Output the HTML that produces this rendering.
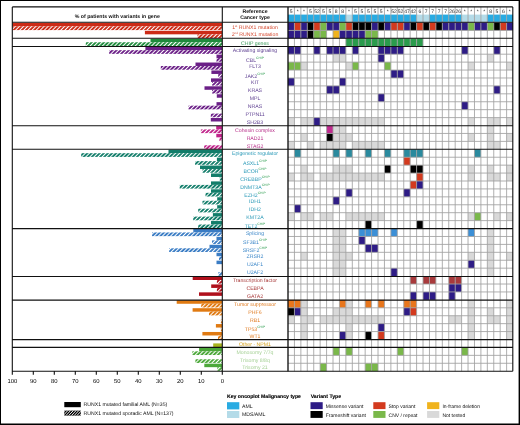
<!DOCTYPE html><html><head><meta charset="utf-8"><style>
html,body{margin:0;padding:0;background:#fff;}
svg{display:block;will-change:transform;}
text{font-family:"Liberation Sans",sans-serif;text-rendering:geometricPrecision;}
</style></head><body>
<svg width="520" height="425" viewBox="0 0 520 425">
<defs>
<pattern id="h_runx" patternUnits="userSpaceOnUse" width="2.9" height="2.9" patternTransform="rotate(45)"><rect width="2.9" height="2.9" fill="#cc2b17"/><rect x="0" y="0" width="1.0" height="2.9" fill="#fff"/></pattern>
<pattern id="h_chip" patternUnits="userSpaceOnUse" width="2.9" height="2.9" patternTransform="rotate(45)"><rect width="2.9" height="2.9" fill="#1f8b3d"/><rect x="0" y="0" width="1.0" height="2.9" fill="#fff"/></pattern>
<pattern id="h_act" patternUnits="userSpaceOnUse" width="2.9" height="2.9" patternTransform="rotate(45)"><rect width="2.9" height="2.9" fill="#6b1f87"/><rect x="0" y="0" width="1.0" height="2.9" fill="#fff"/></pattern>
<pattern id="h_coh" patternUnits="userSpaceOnUse" width="2.9" height="2.9" patternTransform="rotate(45)"><rect width="2.9" height="2.9" fill="#c0238a"/><rect x="0" y="0" width="1.0" height="2.9" fill="#fff"/></pattern>
<pattern id="h_epi" patternUnits="userSpaceOnUse" width="2.9" height="2.9" patternTransform="rotate(45)"><rect width="2.9" height="2.9" fill="#127d6a"/><rect x="0" y="0" width="1.0" height="2.9" fill="#fff"/></pattern>
<pattern id="h_spl" patternUnits="userSpaceOnUse" width="2.9" height="2.9" patternTransform="rotate(45)"><rect width="2.9" height="2.9" fill="#3a7cc4"/><rect x="0" y="0" width="1.0" height="2.9" fill="#fff"/></pattern>
<pattern id="h_tf" patternUnits="userSpaceOnUse" width="2.9" height="2.9" patternTransform="rotate(45)"><rect width="2.9" height="2.9" fill="#b0101c"/><rect x="0" y="0" width="1.0" height="2.9" fill="#fff"/></pattern>
<pattern id="h_ts" patternUnits="userSpaceOnUse" width="2.9" height="2.9" patternTransform="rotate(45)"><rect width="2.9" height="2.9" fill="#e07a12"/><rect x="0" y="0" width="1.0" height="2.9" fill="#fff"/></pattern>
<pattern id="h_oth" patternUnits="userSpaceOnUse" width="2.9" height="2.9" patternTransform="rotate(45)"><rect width="2.9" height="2.9" fill="#a8b41e"/><rect x="0" y="0" width="1.0" height="2.9" fill="#fff"/></pattern>
<pattern id="h_cyt" patternUnits="userSpaceOnUse" width="2.9" height="2.9" patternTransform="rotate(45)"><rect width="2.9" height="2.9" fill="#4ca83a"/><rect x="0" y="0" width="1.0" height="2.9" fill="#fff"/></pattern>
<pattern id="h_blk" patternUnits="userSpaceOnUse" width="1.5" height="1.5" patternTransform="rotate(45)"><rect width="1.5" height="1.5" fill="#000"/><rect x="0" y="0" width="0.55" height="1.5" fill="#fff"/></pattern>
</defs>
<rect x="0" y="0" width="520" height="425" fill="#fff"/>
<rect x="12.30" y="22.90" width="209.70" height="3.5" fill="#cc2b17"/>
<rect x="12.30" y="26.40" width="209.70" height="3.7" fill="url(#h_runx)"/>
<rect x="144.90" y="30.82" width="77.10" height="3.5" fill="#cc2b17"/>
<rect x="197.50" y="34.33" width="24.50" height="3.7" fill="url(#h_runx)"/>
<rect x="150.50" y="38.75" width="71.50" height="3.5" fill="#1f8b3d"/>
<rect x="85.80" y="42.25" width="136.20" height="3.7" fill="url(#h_chip)"/>
<rect x="145.40" y="46.67" width="76.60" height="3.5" fill="#6b1f87"/>
<rect x="109.20" y="50.17" width="112.80" height="3.7" fill="url(#h_act)"/>
<rect x="216.50" y="54.60" width="5.50" height="3.5" fill="#6b1f87"/>
<rect x="216.50" y="58.10" width="5.50" height="3.7" fill="url(#h_act)"/>
<rect x="195.50" y="62.52" width="26.50" height="3.5" fill="#6b1f87"/>
<rect x="160.80" y="66.03" width="61.20" height="3.7" fill="url(#h_act)"/>
<rect x="211.40" y="70.45" width="10.60" height="3.5" fill="#6b1f87"/>
<rect x="218.20" y="73.95" width="3.80" height="3.7" fill="url(#h_act)"/>
<rect x="211.00" y="78.38" width="11.00" height="3.5" fill="#6b1f87"/>
<rect x="212.00" y="81.88" width="10.00" height="3.7" fill="url(#h_act)"/>
<rect x="204.50" y="86.30" width="17.50" height="3.5" fill="#6b1f87"/>
<rect x="212.00" y="89.80" width="10.00" height="3.7" fill="url(#h_act)"/>
<rect x="216.80" y="94.23" width="5.20" height="3.5" fill="#6b1f87"/>
<rect x="216.50" y="102.15" width="5.50" height="3.5" fill="#6b1f87"/>
<rect x="188.50" y="105.65" width="33.50" height="3.7" fill="url(#h_act)"/>
<rect x="210.80" y="113.58" width="11.20" height="3.7" fill="url(#h_act)"/>
<rect x="210.80" y="118.00" width="11.20" height="3.5" fill="#6b1f87"/>
<rect x="216.20" y="125.92" width="5.80" height="3.5" fill="#c0238a"/>
<rect x="200.90" y="129.42" width="21.10" height="3.7" fill="url(#h_coh)"/>
<rect x="216.30" y="133.85" width="5.70" height="3.5" fill="#c0238a"/>
<rect x="219.40" y="137.35" width="2.60" height="3.7" fill="url(#h_coh)"/>
<rect x="204.20" y="145.28" width="17.80" height="3.7" fill="url(#h_coh)"/>
<rect x="168.50" y="149.70" width="53.50" height="3.5" fill="#127d6a"/>
<rect x="81.20" y="153.20" width="140.80" height="3.7" fill="url(#h_epi)"/>
<rect x="216.90" y="157.62" width="5.10" height="3.5" fill="#127d6a"/>
<rect x="195.10" y="161.12" width="26.90" height="3.7" fill="url(#h_epi)"/>
<rect x="200.00" y="165.55" width="22.00" height="3.5" fill="#127d6a"/>
<rect x="202.50" y="169.05" width="19.50" height="3.7" fill="url(#h_epi)"/>
<rect x="211.00" y="173.47" width="11.00" height="3.5" fill="#127d6a"/>
<rect x="219.70" y="176.97" width="2.30" height="3.7" fill="url(#h_epi)"/>
<rect x="211.00" y="181.40" width="11.00" height="3.5" fill="#127d6a"/>
<rect x="179.70" y="184.90" width="42.30" height="3.7" fill="url(#h_epi)"/>
<rect x="211.00" y="189.32" width="11.00" height="3.5" fill="#127d6a"/>
<rect x="205.50" y="192.82" width="16.50" height="3.7" fill="url(#h_epi)"/>
<rect x="217.20" y="197.25" width="4.80" height="3.5" fill="#127d6a"/>
<rect x="202.50" y="200.75" width="19.50" height="3.7" fill="url(#h_epi)"/>
<rect x="217.20" y="205.18" width="4.80" height="3.5" fill="#127d6a"/>
<rect x="198.20" y="208.68" width="23.80" height="3.7" fill="url(#h_epi)"/>
<rect x="212.90" y="213.10" width="9.10" height="3.5" fill="#127d6a"/>
<rect x="193.20" y="216.60" width="28.80" height="3.7" fill="url(#h_epi)"/>
<rect x="211.00" y="221.03" width="11.00" height="3.5" fill="#127d6a"/>
<rect x="198.20" y="224.53" width="23.80" height="3.7" fill="url(#h_epi)"/>
<rect x="193.30" y="228.95" width="28.70" height="3.5" fill="#3a7cc4"/>
<rect x="152.00" y="232.45" width="70.00" height="3.7" fill="url(#h_spl)"/>
<rect x="216.50" y="236.88" width="5.50" height="3.5" fill="#3a7cc4"/>
<rect x="212.00" y="240.38" width="10.00" height="3.7" fill="url(#h_spl)"/>
<rect x="209.50" y="244.80" width="12.50" height="3.5" fill="#3a7cc4"/>
<rect x="169.10" y="248.30" width="52.90" height="3.7" fill="url(#h_spl)"/>
<rect x="216.50" y="252.72" width="5.50" height="3.5" fill="#3a7cc4"/>
<rect x="219.00" y="256.22" width="3.00" height="3.7" fill="url(#h_spl)"/>
<rect x="216.50" y="260.65" width="5.50" height="3.5" fill="#3a7cc4"/>
<rect x="218.40" y="272.07" width="3.60" height="3.7" fill="url(#h_spl)"/>
<rect x="192.70" y="276.50" width="29.30" height="3.5" fill="#b0101c"/>
<rect x="216.90" y="280.00" width="5.10" height="3.7" fill="url(#h_tf)"/>
<rect x="211.20" y="284.42" width="10.80" height="3.5" fill="#b0101c"/>
<rect x="216.90" y="287.92" width="5.10" height="3.7" fill="url(#h_tf)"/>
<rect x="199.00" y="292.35" width="23.00" height="3.5" fill="#b0101c"/>
<rect x="176.70" y="300.27" width="45.30" height="3.5" fill="#e07a12"/>
<rect x="201.20" y="303.77" width="20.80" height="3.7" fill="url(#h_ts)"/>
<rect x="192.60" y="308.20" width="29.40" height="3.5" fill="#e07a12"/>
<rect x="209.00" y="311.70" width="13.00" height="3.7" fill="url(#h_ts)"/>
<rect x="220.80" y="319.62" width="1.20" height="3.7" fill="url(#h_ts)"/>
<rect x="215.90" y="324.05" width="6.10" height="3.5" fill="#e07a12"/>
<rect x="220.80" y="327.55" width="1.20" height="3.7" fill="url(#h_ts)"/>
<rect x="202.40" y="331.97" width="19.60" height="3.5" fill="#e07a12"/>
<rect x="218.00" y="335.47" width="4.00" height="3.7" fill="url(#h_ts)"/>
<rect x="213.20" y="343.40" width="8.80" height="3.7" fill="#a8b41e"/>
<rect x="199.10" y="347.82" width="22.90" height="3.5" fill="#4ca83a"/>
<rect x="192.30" y="351.32" width="29.70" height="3.7" fill="url(#h_cyt)"/>
<rect x="195.40" y="359.25" width="26.60" height="3.7" fill="url(#h_cyt)"/>
<rect x="204.30" y="363.67" width="17.70" height="3.5" fill="#4ca83a"/>
<rect x="217.30" y="367.17" width="4.70" height="3.7" fill="url(#h_cyt)"/>
<rect x="288.00" y="14.6" width="6.43" height="7.2" fill="#29abe2"/>
<rect x="294.43" y="14.6" width="6.43" height="7.2" fill="#29abe2"/>
<rect x="300.86" y="14.6" width="6.43" height="7.2" fill="#29abe2"/>
<rect x="307.29" y="14.6" width="6.43" height="7.2" fill="#29abe2"/>
<rect x="313.72" y="14.6" width="6.43" height="7.2" fill="#29abe2"/>
<rect x="320.15" y="14.6" width="6.43" height="7.2" fill="#29abe2"/>
<rect x="326.58" y="14.6" width="6.43" height="7.2" fill="#29abe2"/>
<rect x="333.01" y="14.6" width="6.43" height="7.2" fill="#29abe2"/>
<rect x="339.44" y="14.6" width="6.43" height="7.2" fill="#29abe2"/>
<rect x="345.87" y="14.6" width="6.43" height="7.2" fill="#b4dbe8"/>
<rect x="352.30" y="14.6" width="6.43" height="7.2" fill="#29abe2"/>
<rect x="358.73" y="14.6" width="6.43" height="7.2" fill="#29abe2"/>
<rect x="365.16" y="14.6" width="6.43" height="7.2" fill="#29abe2"/>
<rect x="371.59" y="14.6" width="6.43" height="7.2" fill="#29abe2"/>
<rect x="378.02" y="14.6" width="6.43" height="7.2" fill="#29abe2"/>
<rect x="384.45" y="14.6" width="6.43" height="7.2" fill="#29abe2"/>
<rect x="390.88" y="14.6" width="6.43" height="7.2" fill="#29abe2"/>
<rect x="397.31" y="14.6" width="6.43" height="7.2" fill="#29abe2"/>
<rect x="403.74" y="14.6" width="6.43" height="7.2" fill="#29abe2"/>
<rect x="410.17" y="14.6" width="6.43" height="7.2" fill="#29abe2"/>
<rect x="416.60" y="14.6" width="6.43" height="7.2" fill="#b4dbe8"/>
<rect x="423.03" y="14.6" width="6.43" height="7.2" fill="#b4dbe8"/>
<rect x="429.46" y="14.6" width="6.43" height="7.2" fill="#29abe2"/>
<rect x="435.89" y="14.6" width="6.43" height="7.2" fill="#29abe2"/>
<rect x="442.32" y="14.6" width="6.43" height="7.2" fill="#29abe2"/>
<rect x="448.75" y="14.6" width="6.43" height="7.2" fill="#29abe2"/>
<rect x="455.18" y="14.6" width="6.43" height="7.2" fill="#29abe2"/>
<rect x="461.61" y="14.6" width="6.43" height="7.2" fill="#b4dbe8"/>
<rect x="468.04" y="14.6" width="6.43" height="7.2" fill="#b4dbe8"/>
<rect x="474.47" y="14.6" width="6.43" height="7.2" fill="#b4dbe8"/>
<rect x="480.90" y="14.6" width="6.43" height="7.2" fill="#b4dbe8"/>
<rect x="487.33" y="14.6" width="6.43" height="7.2" fill="#29abe2"/>
<rect x="493.76" y="14.6" width="6.43" height="7.2" fill="#29abe2"/>
<rect x="500.19" y="14.6" width="6.43" height="7.2" fill="#29abe2"/>
<rect x="506.62" y="14.6" width="6.43" height="7.2" fill="#29abe2"/>
<rect x="288.00" y="22.50" width="6.43" height="7.92" fill="#2e1c86"/>
<rect x="294.43" y="22.50" width="6.43" height="7.92" fill="#d33a1e"/>
<rect x="300.86" y="22.50" width="6.43" height="7.92" fill="#2e1c86"/>
<rect x="307.29" y="22.50" width="6.43" height="7.92" fill="#000000"/>
<rect x="313.72" y="22.50" width="6.43" height="7.92" fill="#d33a1e"/>
<rect x="320.15" y="22.50" width="6.43" height="7.92" fill="#7ab84a"/>
<rect x="326.58" y="22.50" width="6.43" height="7.92" fill="#2e1c86"/>
<rect x="333.01" y="22.50" width="6.43" height="7.92" fill="#2e1c86"/>
<rect x="339.44" y="22.50" width="6.43" height="7.92" fill="#7ab84a"/>
<rect x="345.87" y="22.50" width="6.43" height="7.92" fill="#d33a1e"/>
<rect x="352.30" y="22.50" width="6.43" height="7.92" fill="#000000"/>
<rect x="358.73" y="22.50" width="6.43" height="7.92" fill="#000000"/>
<rect x="365.16" y="22.50" width="6.43" height="7.92" fill="#000000"/>
<rect x="371.59" y="22.50" width="6.43" height="7.92" fill="#2e1c86"/>
<rect x="378.02" y="22.50" width="6.43" height="7.92" fill="#000000"/>
<rect x="384.45" y="22.50" width="6.43" height="7.92" fill="#2e1c86"/>
<rect x="390.88" y="22.50" width="6.43" height="7.92" fill="#d33a1e"/>
<rect x="397.31" y="22.50" width="6.43" height="7.92" fill="#d33a1e"/>
<rect x="403.74" y="22.50" width="6.43" height="7.92" fill="#2e1c86"/>
<rect x="410.17" y="22.50" width="6.43" height="7.92" fill="#000000"/>
<rect x="416.60" y="22.50" width="6.43" height="7.92" fill="#d33a1e"/>
<rect x="423.03" y="22.50" width="6.43" height="7.92" fill="#000000"/>
<rect x="429.46" y="22.50" width="6.43" height="7.92" fill="#d33a1e"/>
<rect x="435.89" y="22.50" width="6.43" height="7.92" fill="#000000"/>
<rect x="442.32" y="22.50" width="6.43" height="7.92" fill="#2e1c86"/>
<rect x="448.75" y="22.50" width="6.43" height="7.92" fill="#2e1c86"/>
<rect x="455.18" y="22.50" width="6.43" height="7.92" fill="#2e1c86"/>
<rect x="461.61" y="22.50" width="6.43" height="7.92" fill="#2e1c86"/>
<rect x="468.04" y="22.50" width="6.43" height="7.92" fill="#7ab84a"/>
<rect x="474.47" y="22.50" width="6.43" height="7.92" fill="#2e1c86"/>
<rect x="480.90" y="22.50" width="6.43" height="7.92" fill="#2e1c86"/>
<rect x="487.33" y="22.50" width="6.43" height="7.92" fill="#7ab84a"/>
<rect x="493.76" y="22.50" width="6.43" height="7.92" fill="#000000"/>
<rect x="500.19" y="22.50" width="6.43" height="7.92" fill="#d33a1e"/>
<rect x="506.62" y="22.50" width="6.43" height="7.92" fill="#2e1c86"/>
<rect x="288.00" y="30.43" width="6.43" height="7.92" fill="#2e1c86"/>
<rect x="294.43" y="30.43" width="6.43" height="7.92" fill="#2e1c86"/>
<rect x="300.86" y="30.43" width="6.43" height="7.92" fill="#2e1c86"/>
<rect x="307.29" y="30.43" width="6.43" height="7.92" fill="#000000"/>
<rect x="313.72" y="30.43" width="6.43" height="7.92" fill="#7ab84a"/>
<rect x="320.15" y="30.43" width="6.43" height="7.92" fill="#7ab84a"/>
<rect x="333.01" y="30.43" width="6.43" height="7.92" fill="#f0b31c"/>
<rect x="339.44" y="30.43" width="6.43" height="7.92" fill="#2e1c86"/>
<rect x="345.87" y="30.43" width="6.43" height="7.92" fill="#2e1c86"/>
<rect x="352.30" y="30.43" width="6.43" height="7.92" fill="#2e1c86"/>
<rect x="358.73" y="30.43" width="6.43" height="7.92" fill="#2e1c86"/>
<rect x="365.16" y="30.43" width="6.43" height="7.92" fill="#7ab84a"/>
<rect x="371.59" y="30.43" width="6.43" height="7.92" fill="#7ab84a"/>
<rect x="345.87" y="38.35" width="6.43" height="7.92" fill="#2a9b4c"/>
<rect x="352.30" y="38.35" width="6.43" height="7.92" fill="#2a9b4c"/>
<rect x="358.73" y="38.35" width="6.43" height="7.92" fill="#2a9b4c"/>
<rect x="365.16" y="38.35" width="6.43" height="7.92" fill="#2a9b4c"/>
<rect x="371.59" y="38.35" width="6.43" height="7.92" fill="#2a9b4c"/>
<rect x="378.02" y="38.35" width="6.43" height="7.92" fill="#2a9b4c"/>
<rect x="384.45" y="38.35" width="6.43" height="7.92" fill="#2a9b4c"/>
<rect x="390.88" y="38.35" width="6.43" height="7.92" fill="#2a9b4c"/>
<rect x="397.31" y="38.35" width="6.43" height="7.92" fill="#2a9b4c"/>
<rect x="403.74" y="38.35" width="6.43" height="7.92" fill="#2a9b4c"/>
<rect x="410.17" y="38.35" width="6.43" height="7.92" fill="#2a9b4c"/>
<rect x="416.60" y="38.35" width="6.43" height="7.92" fill="#2a9b4c"/>
<rect x="288.00" y="46.27" width="6.43" height="7.92" fill="#2e1c86"/>
<rect x="294.43" y="46.27" width="6.43" height="7.92" fill="#2e1c86"/>
<rect x="313.72" y="46.27" width="6.43" height="7.92" fill="#2e1c86"/>
<rect x="326.58" y="46.27" width="6.43" height="7.92" fill="#2e1c86"/>
<rect x="333.01" y="46.27" width="6.43" height="7.92" fill="#2e1c86"/>
<rect x="339.44" y="46.27" width="6.43" height="7.92" fill="#2e1c86"/>
<rect x="352.30" y="46.27" width="6.43" height="7.92" fill="#2e1c86"/>
<rect x="378.02" y="46.27" width="6.43" height="7.92" fill="#2e1c86"/>
<rect x="384.45" y="46.27" width="6.43" height="7.92" fill="#2e1c86"/>
<rect x="390.88" y="46.27" width="6.43" height="7.92" fill="#2e1c86"/>
<rect x="397.31" y="46.27" width="6.43" height="7.92" fill="#2e1c86"/>
<rect x="461.61" y="46.27" width="6.43" height="7.92" fill="#2e1c86"/>
<rect x="493.76" y="46.27" width="6.43" height="7.92" fill="#2e1c86"/>
<rect x="333.01" y="54.20" width="6.43" height="7.92" fill="#d9d9d9"/>
<rect x="339.44" y="54.20" width="6.43" height="7.92" fill="#d9d9d9"/>
<rect x="378.02" y="54.20" width="6.43" height="7.92" fill="#2e1c86"/>
<rect x="487.33" y="54.20" width="6.43" height="7.92" fill="#d9d9d9"/>
<rect x="288.00" y="62.12" width="6.43" height="7.92" fill="#7ab84a"/>
<rect x="294.43" y="62.12" width="6.43" height="7.92" fill="#7ab84a"/>
<rect x="300.86" y="62.12" width="6.43" height="7.92" fill="#d9d9d9"/>
<rect x="345.87" y="62.12" width="6.43" height="7.92" fill="#d9d9d9"/>
<rect x="352.30" y="62.12" width="6.43" height="7.92" fill="#7ab84a"/>
<rect x="384.45" y="62.12" width="6.43" height="7.92" fill="#7ab84a"/>
<rect x="468.04" y="62.12" width="6.43" height="7.92" fill="#d9d9d9"/>
<rect x="506.62" y="62.12" width="6.43" height="7.92" fill="#d9d9d9"/>
<rect x="390.88" y="70.05" width="6.43" height="7.92" fill="#2e1c86"/>
<rect x="397.31" y="70.05" width="6.43" height="7.92" fill="#2e1c86"/>
<rect x="288.00" y="77.97" width="6.43" height="7.92" fill="#2e1c86"/>
<rect x="339.44" y="77.97" width="6.43" height="7.92" fill="#2e1c86"/>
<rect x="326.58" y="85.90" width="6.43" height="7.92" fill="#2e1c86"/>
<rect x="333.01" y="85.90" width="6.43" height="7.92" fill="#2e1c86"/>
<rect x="493.76" y="85.90" width="6.43" height="7.92" fill="#2e1c86"/>
<rect x="378.02" y="93.83" width="6.43" height="7.92" fill="#2e1c86"/>
<rect x="461.61" y="101.75" width="6.43" height="7.92" fill="#2e1c86"/>
<rect x="288.00" y="117.60" width="6.43" height="7.92" fill="#d9d9d9"/>
<rect x="300.86" y="117.60" width="6.43" height="7.92" fill="#d9d9d9"/>
<rect x="307.29" y="117.60" width="6.43" height="7.92" fill="#d9d9d9"/>
<rect x="313.72" y="117.60" width="6.43" height="7.92" fill="#2e1c86"/>
<rect x="320.15" y="117.60" width="6.43" height="7.92" fill="#d9d9d9"/>
<rect x="326.58" y="117.60" width="6.43" height="7.92" fill="#d9d9d9"/>
<rect x="333.01" y="117.60" width="6.43" height="7.92" fill="#d9d9d9"/>
<rect x="339.44" y="117.60" width="6.43" height="7.92" fill="#d9d9d9"/>
<rect x="345.87" y="117.60" width="6.43" height="7.92" fill="#d9d9d9"/>
<rect x="352.30" y="117.60" width="6.43" height="7.92" fill="#d9d9d9"/>
<rect x="358.73" y="117.60" width="6.43" height="7.92" fill="#d9d9d9"/>
<rect x="365.16" y="117.60" width="6.43" height="7.92" fill="#d9d9d9"/>
<rect x="371.59" y="117.60" width="6.43" height="7.92" fill="#d9d9d9"/>
<rect x="378.02" y="117.60" width="6.43" height="7.92" fill="#d9d9d9"/>
<rect x="468.04" y="117.60" width="6.43" height="7.92" fill="#d9d9d9"/>
<rect x="487.33" y="117.60" width="6.43" height="7.92" fill="#d9d9d9"/>
<rect x="493.76" y="117.60" width="6.43" height="7.92" fill="#d9d9d9"/>
<rect x="506.62" y="117.60" width="6.43" height="7.92" fill="#d9d9d9"/>
<rect x="326.58" y="125.52" width="6.43" height="7.92" fill="#c02a8e"/>
<rect x="333.01" y="125.52" width="6.43" height="7.92" fill="#d9d9d9"/>
<rect x="339.44" y="125.52" width="6.43" height="7.92" fill="#d9d9d9"/>
<rect x="487.33" y="125.52" width="6.43" height="7.92" fill="#d9d9d9"/>
<rect x="300.86" y="133.45" width="6.43" height="7.92" fill="#d9d9d9"/>
<rect x="326.58" y="133.45" width="6.43" height="7.92" fill="#000000"/>
<rect x="333.01" y="133.45" width="6.43" height="7.92" fill="#d9d9d9"/>
<rect x="339.44" y="133.45" width="6.43" height="7.92" fill="#d9d9d9"/>
<rect x="345.87" y="133.45" width="6.43" height="7.92" fill="#d9d9d9"/>
<rect x="468.04" y="133.45" width="6.43" height="7.92" fill="#d9d9d9"/>
<rect x="487.33" y="133.45" width="6.43" height="7.92" fill="#d9d9d9"/>
<rect x="506.62" y="133.45" width="6.43" height="7.92" fill="#d9d9d9"/>
<rect x="288.00" y="141.38" width="6.43" height="7.92" fill="#d9d9d9"/>
<rect x="307.29" y="141.38" width="6.43" height="7.92" fill="#d9d9d9"/>
<rect x="320.15" y="141.38" width="6.43" height="7.92" fill="#d9d9d9"/>
<rect x="326.58" y="141.38" width="6.43" height="7.92" fill="#d9d9d9"/>
<rect x="333.01" y="141.38" width="6.43" height="7.92" fill="#d9d9d9"/>
<rect x="339.44" y="141.38" width="6.43" height="7.92" fill="#d9d9d9"/>
<rect x="352.30" y="141.38" width="6.43" height="7.92" fill="#d9d9d9"/>
<rect x="358.73" y="141.38" width="6.43" height="7.92" fill="#d9d9d9"/>
<rect x="365.16" y="141.38" width="6.43" height="7.92" fill="#d9d9d9"/>
<rect x="371.59" y="141.38" width="6.43" height="7.92" fill="#d9d9d9"/>
<rect x="378.02" y="141.38" width="6.43" height="7.92" fill="#d9d9d9"/>
<rect x="487.33" y="141.38" width="6.43" height="7.92" fill="#d9d9d9"/>
<rect x="493.76" y="141.38" width="6.43" height="7.92" fill="#d9d9d9"/>
<rect x="294.43" y="149.30" width="6.43" height="7.92" fill="#2a8a9e"/>
<rect x="333.01" y="149.30" width="6.43" height="7.92" fill="#2a8a9e"/>
<rect x="345.87" y="149.30" width="6.43" height="7.92" fill="#2a8a9e"/>
<rect x="365.16" y="149.30" width="6.43" height="7.92" fill="#2a8a9e"/>
<rect x="384.45" y="149.30" width="6.43" height="7.92" fill="#2a8a9e"/>
<rect x="403.74" y="149.30" width="6.43" height="7.92" fill="#2a8a9e"/>
<rect x="410.17" y="149.30" width="6.43" height="7.92" fill="#2a8a9e"/>
<rect x="416.60" y="149.30" width="6.43" height="7.92" fill="#2a8a9e"/>
<rect x="474.47" y="149.30" width="6.43" height="7.92" fill="#2a8a9e"/>
<rect x="403.74" y="157.22" width="6.43" height="7.92" fill="#d33a1e"/>
<rect x="300.86" y="165.15" width="6.43" height="7.92" fill="#d9d9d9"/>
<rect x="333.01" y="165.15" width="6.43" height="7.92" fill="#d9d9d9"/>
<rect x="339.44" y="165.15" width="6.43" height="7.92" fill="#d9d9d9"/>
<rect x="345.87" y="165.15" width="6.43" height="7.92" fill="#d9d9d9"/>
<rect x="384.45" y="165.15" width="6.43" height="7.92" fill="#000000"/>
<rect x="410.17" y="165.15" width="6.43" height="7.92" fill="#000000"/>
<rect x="416.60" y="165.15" width="6.43" height="7.92" fill="#000000"/>
<rect x="468.04" y="165.15" width="6.43" height="7.92" fill="#d9d9d9"/>
<rect x="487.33" y="165.15" width="6.43" height="7.92" fill="#d9d9d9"/>
<rect x="506.62" y="165.15" width="6.43" height="7.92" fill="#d9d9d9"/>
<rect x="288.00" y="173.07" width="6.43" height="7.92" fill="#d9d9d9"/>
<rect x="300.86" y="173.07" width="6.43" height="7.92" fill="#d9d9d9"/>
<rect x="307.29" y="173.07" width="6.43" height="7.92" fill="#d9d9d9"/>
<rect x="320.15" y="173.07" width="6.43" height="7.92" fill="#d9d9d9"/>
<rect x="326.58" y="173.07" width="6.43" height="7.92" fill="#d9d9d9"/>
<rect x="333.01" y="173.07" width="6.43" height="7.92" fill="#d9d9d9"/>
<rect x="339.44" y="173.07" width="6.43" height="7.92" fill="#d9d9d9"/>
<rect x="345.87" y="173.07" width="6.43" height="7.92" fill="#d9d9d9"/>
<rect x="352.30" y="173.07" width="6.43" height="7.92" fill="#d9d9d9"/>
<rect x="358.73" y="173.07" width="6.43" height="7.92" fill="#d9d9d9"/>
<rect x="365.16" y="173.07" width="6.43" height="7.92" fill="#d9d9d9"/>
<rect x="371.59" y="173.07" width="6.43" height="7.92" fill="#d9d9d9"/>
<rect x="378.02" y="173.07" width="6.43" height="7.92" fill="#d9d9d9"/>
<rect x="416.60" y="173.07" width="6.43" height="7.92" fill="#d33a1e"/>
<rect x="468.04" y="173.07" width="6.43" height="7.92" fill="#d9d9d9"/>
<rect x="487.33" y="173.07" width="6.43" height="7.92" fill="#d9d9d9"/>
<rect x="493.76" y="173.07" width="6.43" height="7.92" fill="#d9d9d9"/>
<rect x="506.62" y="173.07" width="6.43" height="7.92" fill="#d9d9d9"/>
<rect x="410.17" y="181.00" width="6.43" height="7.92" fill="#d33a1e"/>
<rect x="416.60" y="181.00" width="6.43" height="7.92" fill="#2e1c86"/>
<rect x="345.87" y="188.92" width="6.43" height="7.92" fill="#2e1c86"/>
<rect x="403.74" y="188.92" width="6.43" height="7.92" fill="#2e1c86"/>
<rect x="333.01" y="196.85" width="6.43" height="7.92" fill="#2e1c86"/>
<rect x="294.43" y="204.78" width="6.43" height="7.92" fill="#2e1c86"/>
<rect x="288.00" y="212.70" width="6.43" height="7.92" fill="#d9d9d9"/>
<rect x="300.86" y="212.70" width="6.43" height="7.92" fill="#d9d9d9"/>
<rect x="307.29" y="212.70" width="6.43" height="7.92" fill="#d9d9d9"/>
<rect x="320.15" y="212.70" width="6.43" height="7.92" fill="#d9d9d9"/>
<rect x="326.58" y="212.70" width="6.43" height="7.92" fill="#d9d9d9"/>
<rect x="345.87" y="212.70" width="6.43" height="7.92" fill="#d9d9d9"/>
<rect x="352.30" y="212.70" width="6.43" height="7.92" fill="#d9d9d9"/>
<rect x="358.73" y="212.70" width="6.43" height="7.92" fill="#d9d9d9"/>
<rect x="365.16" y="212.70" width="6.43" height="7.92" fill="#d9d9d9"/>
<rect x="371.59" y="212.70" width="6.43" height="7.92" fill="#d9d9d9"/>
<rect x="378.02" y="212.70" width="6.43" height="7.92" fill="#d9d9d9"/>
<rect x="468.04" y="212.70" width="6.43" height="7.92" fill="#d9d9d9"/>
<rect x="474.47" y="212.70" width="6.43" height="7.92" fill="#7ab84a"/>
<rect x="493.76" y="212.70" width="6.43" height="7.92" fill="#d9d9d9"/>
<rect x="506.62" y="212.70" width="6.43" height="7.92" fill="#d9d9d9"/>
<rect x="365.16" y="220.62" width="6.43" height="7.92" fill="#000000"/>
<rect x="416.60" y="220.62" width="6.43" height="7.92" fill="#000000"/>
<rect x="333.01" y="228.55" width="6.43" height="7.92" fill="#d9d9d9"/>
<rect x="339.44" y="228.55" width="6.43" height="7.92" fill="#d9d9d9"/>
<rect x="358.73" y="228.55" width="6.43" height="7.92" fill="#3b8fd6"/>
<rect x="365.16" y="228.55" width="6.43" height="7.92" fill="#3b8fd6"/>
<rect x="371.59" y="228.55" width="6.43" height="7.92" fill="#3b8fd6"/>
<rect x="390.88" y="228.55" width="6.43" height="7.92" fill="#3b8fd6"/>
<rect x="468.04" y="228.55" width="6.43" height="7.92" fill="#3b8fd6"/>
<rect x="487.33" y="228.55" width="6.43" height="7.92" fill="#d9d9d9"/>
<rect x="333.01" y="236.47" width="6.43" height="7.92" fill="#d9d9d9"/>
<rect x="339.44" y="236.47" width="6.43" height="7.92" fill="#d9d9d9"/>
<rect x="358.73" y="236.47" width="6.43" height="7.92" fill="#2e1c86"/>
<rect x="487.33" y="236.47" width="6.43" height="7.92" fill="#d9d9d9"/>
<rect x="333.01" y="244.40" width="6.43" height="7.92" fill="#d9d9d9"/>
<rect x="339.44" y="244.40" width="6.43" height="7.92" fill="#d9d9d9"/>
<rect x="365.16" y="244.40" width="6.43" height="7.92" fill="#2e1c86"/>
<rect x="371.59" y="244.40" width="6.43" height="7.92" fill="#2e1c86"/>
<rect x="487.33" y="244.40" width="6.43" height="7.92" fill="#d9d9d9"/>
<rect x="300.86" y="252.32" width="6.43" height="7.92" fill="#d9d9d9"/>
<rect x="333.01" y="252.32" width="6.43" height="7.92" fill="#d9d9d9"/>
<rect x="339.44" y="252.32" width="6.43" height="7.92" fill="#d9d9d9"/>
<rect x="345.87" y="252.32" width="6.43" height="7.92" fill="#d9d9d9"/>
<rect x="468.04" y="252.32" width="6.43" height="7.92" fill="#d9d9d9"/>
<rect x="487.33" y="252.32" width="6.43" height="7.92" fill="#d9d9d9"/>
<rect x="506.62" y="252.32" width="6.43" height="7.92" fill="#d9d9d9"/>
<rect x="333.01" y="260.25" width="6.43" height="7.92" fill="#d9d9d9"/>
<rect x="339.44" y="260.25" width="6.43" height="7.92" fill="#d9d9d9"/>
<rect x="468.04" y="260.25" width="6.43" height="7.92" fill="#2e1c86"/>
<rect x="487.33" y="260.25" width="6.43" height="7.92" fill="#d9d9d9"/>
<rect x="333.01" y="268.17" width="6.43" height="7.92" fill="#d9d9d9"/>
<rect x="339.44" y="268.17" width="6.43" height="7.92" fill="#d9d9d9"/>
<rect x="390.88" y="268.17" width="6.43" height="7.92" fill="#2e1c86"/>
<rect x="487.33" y="268.17" width="6.43" height="7.92" fill="#d9d9d9"/>
<rect x="410.17" y="276.10" width="6.43" height="7.92" fill="#a83a3c"/>
<rect x="423.03" y="276.10" width="6.43" height="7.92" fill="#a83a3c"/>
<rect x="429.46" y="276.10" width="6.43" height="7.92" fill="#a83a3c"/>
<rect x="448.75" y="276.10" width="6.43" height="7.92" fill="#a83a3c"/>
<rect x="455.18" y="276.10" width="6.43" height="7.92" fill="#a83a3c"/>
<rect x="448.75" y="284.02" width="6.43" height="7.92" fill="#2e1c86"/>
<rect x="455.18" y="284.02" width="6.43" height="7.92" fill="#2e1c86"/>
<rect x="410.17" y="291.95" width="6.43" height="7.92" fill="#2e1c86"/>
<rect x="423.03" y="291.95" width="6.43" height="7.92" fill="#2e1c86"/>
<rect x="429.46" y="291.95" width="6.43" height="7.92" fill="#2e1c86"/>
<rect x="448.75" y="291.95" width="6.43" height="7.92" fill="#2e1c86"/>
<rect x="288.00" y="299.88" width="6.43" height="7.92" fill="#e8761c"/>
<rect x="294.43" y="299.88" width="6.43" height="7.92" fill="#e8761c"/>
<rect x="300.86" y="299.88" width="6.43" height="7.92" fill="#d9d9d9"/>
<rect x="339.44" y="299.88" width="6.43" height="7.92" fill="#e8761c"/>
<rect x="345.87" y="299.88" width="6.43" height="7.92" fill="#d9d9d9"/>
<rect x="365.16" y="299.88" width="6.43" height="7.92" fill="#e8761c"/>
<rect x="378.02" y="299.88" width="6.43" height="7.92" fill="#e8761c"/>
<rect x="403.74" y="299.88" width="6.43" height="7.92" fill="#e8761c"/>
<rect x="410.17" y="299.88" width="6.43" height="7.92" fill="#e8761c"/>
<rect x="468.04" y="299.88" width="6.43" height="7.92" fill="#d9d9d9"/>
<rect x="506.62" y="299.88" width="6.43" height="7.92" fill="#d9d9d9"/>
<rect x="288.00" y="307.80" width="6.43" height="7.92" fill="#000000"/>
<rect x="294.43" y="307.80" width="6.43" height="7.92" fill="#2e1c86"/>
<rect x="300.86" y="307.80" width="6.43" height="7.92" fill="#d9d9d9"/>
<rect x="333.01" y="307.80" width="6.43" height="7.92" fill="#d9d9d9"/>
<rect x="339.44" y="307.80" width="6.43" height="7.92" fill="#d9d9d9"/>
<rect x="345.87" y="307.80" width="6.43" height="7.92" fill="#d9d9d9"/>
<rect x="403.74" y="307.80" width="6.43" height="7.92" fill="#2e1c86"/>
<rect x="410.17" y="307.80" width="6.43" height="7.92" fill="#d33a1e"/>
<rect x="468.04" y="307.80" width="6.43" height="7.92" fill="#d9d9d9"/>
<rect x="487.33" y="307.80" width="6.43" height="7.92" fill="#d9d9d9"/>
<rect x="506.62" y="307.80" width="6.43" height="7.92" fill="#d9d9d9"/>
<rect x="288.00" y="315.72" width="6.43" height="7.92" fill="#d9d9d9"/>
<rect x="300.86" y="315.72" width="6.43" height="7.92" fill="#d9d9d9"/>
<rect x="307.29" y="315.72" width="6.43" height="7.92" fill="#d9d9d9"/>
<rect x="320.15" y="315.72" width="6.43" height="7.92" fill="#d9d9d9"/>
<rect x="326.58" y="315.72" width="6.43" height="7.92" fill="#d9d9d9"/>
<rect x="333.01" y="315.72" width="6.43" height="7.92" fill="#d9d9d9"/>
<rect x="339.44" y="315.72" width="6.43" height="7.92" fill="#d9d9d9"/>
<rect x="345.87" y="315.72" width="6.43" height="7.92" fill="#d9d9d9"/>
<rect x="352.30" y="315.72" width="6.43" height="7.92" fill="#d9d9d9"/>
<rect x="358.73" y="315.72" width="6.43" height="7.92" fill="#d9d9d9"/>
<rect x="365.16" y="315.72" width="6.43" height="7.92" fill="#d9d9d9"/>
<rect x="371.59" y="315.72" width="6.43" height="7.92" fill="#d9d9d9"/>
<rect x="378.02" y="315.72" width="6.43" height="7.92" fill="#d9d9d9"/>
<rect x="448.75" y="315.72" width="6.43" height="7.92" fill="#d9d9d9"/>
<rect x="455.18" y="315.72" width="6.43" height="7.92" fill="#d9d9d9"/>
<rect x="468.04" y="315.72" width="6.43" height="7.92" fill="#d9d9d9"/>
<rect x="487.33" y="315.72" width="6.43" height="7.92" fill="#d9d9d9"/>
<rect x="493.76" y="315.72" width="6.43" height="7.92" fill="#d9d9d9"/>
<rect x="506.62" y="315.72" width="6.43" height="7.92" fill="#d9d9d9"/>
<rect x="300.86" y="323.65" width="6.43" height="7.92" fill="#d9d9d9"/>
<rect x="345.87" y="323.65" width="6.43" height="7.92" fill="#d9d9d9"/>
<rect x="378.02" y="323.65" width="6.43" height="7.92" fill="#2e1c86"/>
<rect x="468.04" y="323.65" width="6.43" height="7.92" fill="#d9d9d9"/>
<rect x="506.62" y="323.65" width="6.43" height="7.92" fill="#d9d9d9"/>
<rect x="300.86" y="331.57" width="6.43" height="7.92" fill="#d9d9d9"/>
<rect x="339.44" y="331.57" width="6.43" height="7.92" fill="#2e1c86"/>
<rect x="345.87" y="331.57" width="6.43" height="7.92" fill="#d9d9d9"/>
<rect x="365.16" y="331.57" width="6.43" height="7.92" fill="#000000"/>
<rect x="378.02" y="331.57" width="6.43" height="7.92" fill="#d33a1e"/>
<rect x="468.04" y="331.57" width="6.43" height="7.92" fill="#d9d9d9"/>
<rect x="506.62" y="331.57" width="6.43" height="7.92" fill="#d9d9d9"/>
<rect x="333.01" y="347.43" width="6.43" height="7.92" fill="#7ab84a"/>
<rect x="345.87" y="347.43" width="6.43" height="7.92" fill="#7ab84a"/>
<rect x="397.31" y="347.43" width="6.43" height="7.92" fill="#7ab84a"/>
<rect x="461.61" y="347.43" width="6.43" height="7.92" fill="#7ab84a"/>
<rect x="320.15" y="363.27" width="6.43" height="7.92" fill="#7ab84a"/>
<rect x="365.16" y="363.27" width="6.43" height="7.92" fill="#7ab84a"/>
<rect x="371.59" y="363.27" width="6.43" height="7.92" fill="#7ab84a"/>
<path d="M294.43 6.9V371.2M300.86 6.9V371.2M307.29 6.9V371.2M313.72 6.9V371.2M320.15 6.9V371.2M326.58 6.9V371.2M333.01 6.9V371.2M339.44 6.9V371.2M345.87 6.9V371.2M352.30 6.9V371.2M358.73 6.9V371.2M365.16 6.9V371.2M371.59 6.9V371.2M378.02 6.9V371.2M384.45 6.9V371.2M390.88 6.9V371.2M397.31 6.9V371.2M403.74 6.9V371.2M410.17 6.9V371.2M416.60 6.9V371.2M423.03 6.9V371.2M429.46 6.9V371.2M435.89 6.9V371.2M442.32 6.9V371.2M448.75 6.9V371.2M455.18 6.9V371.2M461.61 6.9V371.2M468.04 6.9V371.2M474.47 6.9V371.2M480.90 6.9V371.2M487.33 6.9V371.2M493.76 6.9V371.2M500.19 6.9V371.2M506.62 6.9V371.2M288.0 30.43H512.8M288.0 54.20H512.8M288.0 62.12H512.8M288.0 70.05H512.8M288.0 77.97H512.8M288.0 85.90H512.8M288.0 93.83H512.8M288.0 101.75H512.8M288.0 109.67H512.8M288.0 117.60H512.8M288.0 133.45H512.8M288.0 141.38H512.8M288.0 157.22H512.8M288.0 165.15H512.8M288.0 173.07H512.8M288.0 181.00H512.8M288.0 188.92H512.8M288.0 196.85H512.8M288.0 204.78H512.8M288.0 212.70H512.8M288.0 220.62H512.8M288.0 236.47H512.8M288.0 244.40H512.8M288.0 252.32H512.8M288.0 260.25H512.8M288.0 268.17H512.8M288.0 284.02H512.8M288.0 291.95H512.8M288.0 307.80H512.8M288.0 315.72H512.8M288.0 323.65H512.8M288.0 331.57H512.8M288.0 355.35H512.8M288.0 363.27H512.8" stroke="#a0a0a0" stroke-width="0.85" fill="none"/>
<text x="291.21" y="12.5" font-size="5.0" text-anchor="middle" fill="#1a1a1a">5</text>
<text x="297.64" y="12.5" font-size="5.0" text-anchor="middle" fill="#1a1a1a">*</text>
<text x="304.07" y="12.5" font-size="5.0" text-anchor="middle" fill="#1a1a1a">*</text>
<text x="310.50" y="12.5" font-size="5.0" text-anchor="middle" fill="#1a1a1a">5</text>
<text x="316.94" y="12.5" font-size="5.0" text-anchor="middle" fill="#1a1a1a">52</text>
<text x="323.36" y="12.5" font-size="5.0" text-anchor="middle" fill="#1a1a1a">5</text>
<text x="329.79" y="12.5" font-size="5.0" text-anchor="middle" fill="#1a1a1a">5</text>
<text x="336.22" y="12.5" font-size="5.0" text-anchor="middle" fill="#1a1a1a">8</text>
<text x="342.65" y="12.5" font-size="5.0" text-anchor="middle" fill="#1a1a1a">8</text>
<text x="349.08" y="12.5" font-size="5.0" text-anchor="middle" fill="#1a1a1a">*</text>
<text x="355.51" y="12.5" font-size="5.0" text-anchor="middle" fill="#1a1a1a">5</text>
<text x="361.94" y="12.5" font-size="5.0" text-anchor="middle" fill="#1a1a1a">5</text>
<text x="368.37" y="12.5" font-size="5.0" text-anchor="middle" fill="#1a1a1a">5</text>
<text x="374.81" y="12.5" font-size="5.0" text-anchor="middle" fill="#1a1a1a">5</text>
<text x="381.23" y="12.5" font-size="5.0" text-anchor="middle" fill="#1a1a1a">5</text>
<text x="387.66" y="12.5" font-size="5.0" text-anchor="middle" fill="#1a1a1a">*</text>
<text x="394.09" y="12.5" font-size="5.0" text-anchor="middle" fill="#1a1a1a">52</text>
<text x="400.52" y="12.5" font-size="5.0" text-anchor="middle" fill="#1a1a1a">52</text>
<text x="406.95" y="12.5" font-size="5.0" text-anchor="middle" fill="#1a1a1a">47</text>
<text x="413.38" y="12.5" font-size="5.0" text-anchor="middle" fill="#1a1a1a">42</text>
<text x="419.81" y="12.5" font-size="5.0" text-anchor="middle" fill="#1a1a1a">6</text>
<text x="426.24" y="12.5" font-size="5.0" text-anchor="middle" fill="#1a1a1a">7</text>
<text x="432.67" y="12.5" font-size="5.0" text-anchor="middle" fill="#1a1a1a">7</text>
<text x="439.10" y="12.5" font-size="5.0" text-anchor="middle" fill="#1a1a1a">7</text>
<text x="445.53" y="12.5" font-size="5.0" text-anchor="middle" fill="#1a1a1a">7</text>
<text x="451.96" y="12.5" font-size="5.0" text-anchor="middle" fill="#1a1a1a">26</text>
<text x="458.39" y="12.5" font-size="5.0" text-anchor="middle" fill="#1a1a1a">26</text>
<text x="464.82" y="12.5" font-size="5.0" text-anchor="middle" fill="#1a1a1a">*</text>
<text x="471.25" y="12.5" font-size="5.0" text-anchor="middle" fill="#1a1a1a">*</text>
<text x="477.69" y="12.5" font-size="5.0" text-anchor="middle" fill="#1a1a1a">*</text>
<text x="484.11" y="12.5" font-size="5.0" text-anchor="middle" fill="#1a1a1a">*</text>
<text x="490.54" y="12.5" font-size="5.0" text-anchor="middle" fill="#1a1a1a">8</text>
<text x="496.97" y="12.5" font-size="5.0" text-anchor="middle" fill="#1a1a1a">5</text>
<text x="503.40" y="12.5" font-size="5.0" text-anchor="middle" fill="#1a1a1a">6</text>
<text x="509.83" y="12.5" font-size="5.0" text-anchor="middle" fill="#1a1a1a">*</text>
<path d="M12.3 6.9H512.8M12.3 371.2H512.8M12.3 22.3H512.8M12.3 38.3H512.8M12.3 46.5H512.8M12.3 125.8H512.8M12.3 149.3H512.8M12.3 228.6H512.8M12.3 276.5H512.8M12.3 300.1H512.8M12.3 339.6H512.8M12.3 347.4H512.8M12.3 6.9V371.2M512.8 6.9V371.2M222.3 6.9V374.7M12.30 371.2V374.7M33.30 371.2V374.7M54.30 371.2V374.7M75.30 371.2V374.7M96.30 371.2V374.7M117.30 371.2V374.7M138.30 371.2V374.7M159.30 371.2V374.7M180.30 371.2V374.7M201.30 371.2V374.7M222.30 371.2V374.7" stroke="#111" stroke-width="1.1" fill="none"/>
<path d="M288.0 6.9V371.2" stroke="#111" stroke-width="1.35" fill="none"/>
<path d="M0 0H520V1H0Z M0 0H1V425H0Z M518.6 0H520V425H518.6Z M0 423.6H520V425H0Z" fill="#000"/>
<text x="117.3" y="17.7" font-size="5.2" font-weight="bold" text-anchor="middle" fill="#111">% of patients with variants in gene</text>
<text x="255" y="13.0" font-size="5.2" font-weight="bold" text-anchor="middle" fill="#111">Reference</text>
<text x="255" y="19.3" font-size="5.2" font-weight="bold" text-anchor="middle" fill="#111">Cancer type</text>
<text x="255" y="29.46" font-size="5.2" text-anchor="middle" fill="#d5482e">1<tspan font-size="3" dy="-2">st</tspan><tspan dy="2"> RUNX1 mutation</tspan></text>
<text x="255" y="35.79" font-size="5.2" text-anchor="middle" fill="#d5482e">2<tspan font-size="3" dy="-2">nd</tspan><tspan dy="2"> RUNX1 mutation</tspan></text>
<text x="255" y="44.51" font-size="5.2" text-anchor="middle" fill="#3a9a5a">CHIP genes</text>
<text x="255" y="52.44" font-size="5.2" text-anchor="middle" fill="#5e3f91">Activating signaling</text>
<text x="255" y="61.86" font-size="5.2" text-anchor="middle" fill="#5e3f91">CBL<tspan font-size="3.35" dy="-3.0" fill="#3aa35a">CHIP</tspan></text>
<text x="255" y="68.29" font-size="5.2" text-anchor="middle" fill="#5e3f91">FLT3</text>
<text x="255" y="77.71" font-size="5.2" text-anchor="middle" fill="#5e3f91">JAK2<tspan font-size="3.35" dy="-3.0" fill="#3aa35a">CHIP</tspan></text>
<text x="255" y="84.14" font-size="5.2" text-anchor="middle" fill="#5e3f91">KIT</text>
<text x="255" y="92.06" font-size="5.2" text-anchor="middle" fill="#5e3f91">KRAS</text>
<text x="255" y="99.99" font-size="5.2" text-anchor="middle" fill="#5e3f91">MPL</text>
<text x="255" y="107.91" font-size="5.2" text-anchor="middle" fill="#5e3f91">NRAS</text>
<text x="255" y="115.84" font-size="5.2" text-anchor="middle" fill="#5e3f91">PTPN11</text>
<text x="255" y="123.76" font-size="5.2" text-anchor="middle" fill="#5e3f91">SH2B3</text>
<text x="255" y="131.69" font-size="5.2" text-anchor="middle" fill="#b8308a">Cohesin complex</text>
<text x="255" y="139.61" font-size="5.2" text-anchor="middle" fill="#b8308a">RAD21</text>
<text x="255" y="147.54" font-size="5.2" text-anchor="middle" fill="#b8308a">STAG2</text>
<text x="255" y="155.46" font-size="5.2" text-anchor="middle" fill="#2b9ab8">Epigenetic regulator</text>
<text x="255" y="164.89" font-size="5.2" text-anchor="middle" fill="#2b9ab8">ASXL1<tspan font-size="3.35" dy="-3.0" fill="#3aa35a">CHIP</tspan></text>
<text x="255" y="172.81" font-size="5.2" text-anchor="middle" fill="#2b9ab8">BCOR<tspan font-size="3.35" dy="-3.0" fill="#3aa35a">CHIP</tspan></text>
<text x="255" y="180.74" font-size="5.2" text-anchor="middle" fill="#2b9ab8">CREBBP<tspan font-size="3.35" dy="-3.0" fill="#3aa35a">CHIP</tspan></text>
<text x="255" y="188.66" font-size="5.2" text-anchor="middle" fill="#2b9ab8">DNMT3A<tspan font-size="3.35" dy="-3.0" fill="#3aa35a">CHIP</tspan></text>
<text x="255" y="196.59" font-size="5.2" text-anchor="middle" fill="#2b9ab8">EZH2<tspan font-size="3.35" dy="-3.0" fill="#3aa35a">CHIP</tspan></text>
<text x="255" y="203.01" font-size="5.2" text-anchor="middle" fill="#2b9ab8">IDH1</text>
<text x="255" y="210.94" font-size="5.2" text-anchor="middle" fill="#2b9ab8">IDH2</text>
<text x="255" y="218.86" font-size="5.2" text-anchor="middle" fill="#2b9ab8">KMT2A</text>
<text x="255" y="228.29" font-size="5.2" text-anchor="middle" fill="#2b9ab8">TET2<tspan font-size="3.35" dy="-3.0" fill="#3aa35a">CHIP</tspan></text>
<text x="255" y="234.71" font-size="5.2" text-anchor="middle" fill="#3a86c8">Splicing</text>
<text x="255" y="244.14" font-size="5.2" text-anchor="middle" fill="#3a86c8">SF3B1<tspan font-size="3.35" dy="-3.0" fill="#3aa35a">CHIP</tspan></text>
<text x="255" y="252.06" font-size="5.2" text-anchor="middle" fill="#3a86c8">SRSF2<tspan font-size="3.35" dy="-3.0" fill="#3aa35a">CHIP</tspan></text>
<text x="255" y="258.49" font-size="5.2" text-anchor="middle" fill="#3a86c8">ZRSR2</text>
<text x="255" y="266.41" font-size="5.2" text-anchor="middle" fill="#3a86c8">U2AF1</text>
<text x="255" y="274.34" font-size="5.2" text-anchor="middle" fill="#3a86c8">U2AF2</text>
<text x="255" y="282.26" font-size="5.2" text-anchor="middle" fill="#a83a3a">Transcription factor</text>
<text x="255" y="290.19" font-size="5.2" text-anchor="middle" fill="#a83a3a">CEBPA</text>
<text x="255" y="298.11" font-size="5.2" text-anchor="middle" fill="#a83a3a">GATA2</text>
<text x="255" y="306.04" font-size="5.2" text-anchor="middle" fill="#e07b20">Tumor suppressor</text>
<text x="255" y="313.96" font-size="5.2" text-anchor="middle" fill="#e07b20">PHF6</text>
<text x="255" y="321.89" font-size="5.2" text-anchor="middle" fill="#e07b20">RB1</text>
<text x="255" y="331.31" font-size="5.2" text-anchor="middle" fill="#e07b20">TP53<tspan font-size="3.35" dy="-3.0" fill="#3aa35a">CHIP</tspan></text>
<text x="255" y="337.74" font-size="5.2" text-anchor="middle" fill="#e07b20">WT1</text>
<text x="255" y="345.66" font-size="5.2" text-anchor="middle" fill="#d6a21e">Other - NPM1</text>
<text x="255" y="353.59" font-size="5.2" text-anchor="middle" fill="#a6d196">Monosomy 7/7q</text>
<text x="255" y="361.51" font-size="5.2" text-anchor="middle" fill="#a6d196">Trisomy 8/8q</text>
<text x="255" y="369.44" font-size="5.2" text-anchor="middle" fill="#a6d196">Trisomy 21</text>
<text x="12.30" y="383.3" font-size="5.9" text-anchor="middle" fill="#000">100</text>
<text x="33.30" y="383.3" font-size="5.9" text-anchor="middle" fill="#000">90</text>
<text x="54.30" y="383.3" font-size="5.9" text-anchor="middle" fill="#000">80</text>
<text x="75.30" y="383.3" font-size="5.9" text-anchor="middle" fill="#000">70</text>
<text x="96.30" y="383.3" font-size="5.9" text-anchor="middle" fill="#000">60</text>
<text x="117.30" y="383.3" font-size="5.9" text-anchor="middle" fill="#000">50</text>
<text x="138.30" y="383.3" font-size="5.9" text-anchor="middle" fill="#000">40</text>
<text x="159.30" y="383.3" font-size="5.9" text-anchor="middle" fill="#000">30</text>
<text x="180.30" y="383.3" font-size="5.9" text-anchor="middle" fill="#000">20</text>
<text x="201.30" y="383.3" font-size="5.9" text-anchor="middle" fill="#000">10</text>
<text x="222.30" y="383.3" font-size="5.9" text-anchor="middle" fill="#000">0</text>
<rect x="64.3" y="402" width="16.5" height="5.2" fill="#000"/>
<clipPath id="swc"><rect x="64.3" y="410.6" width="16.5" height="5.0"/></clipPath>
<rect x="64.3" y="410.6" width="16.5" height="5.0" fill="#000"/>
<path d="M60.00 416H60.00L65.60 410M62.75 416H62.75L68.35 410M65.50 416H65.50L71.10 410M68.25 416H68.25L73.85 410M71.00 416H71.00L76.60 410M73.75 416H73.75L79.35 410M76.50 416H76.50L82.10 410M79.25 416H79.25L84.85 410M82.00 416H82.00L87.60 410M84.75 416H84.75L90.35 410" stroke="#fff" stroke-width="0.95" clip-path="url(#swc)" fill="none"/>
<text x="83.6" y="406.4" font-size="5.15" fill="#111">RUNX1 mutated familial AML (N=35)</text>
<text x="83.6" y="414.9" font-size="5.15" fill="#111">RUNX1 mutated sporadic AML (N=137)</text>
<text x="227" y="398.2" font-size="5.15" font-weight="bold" fill="#000" stroke="#000" stroke-width="0.12">Key oncoplot Malignancy type</text>
<rect x="227" y="402.2" width="12.3" height="7.2" fill="#29abe2"/>
<rect x="227" y="411" width="12.3" height="7" fill="#b4dbe8"/>
<text x="242" y="407.5" font-size="5.15" fill="#111">AML</text>
<text x="242" y="416.3" font-size="5.15" fill="#111">MDS/AML</text>
<text x="310.7" y="398.2" font-size="5.2" font-weight="bold" fill="#000" stroke="#000" stroke-width="0.12">Variant Type</text>
<rect x="310.5" y="402.2" width="12.2" height="6.9" fill="#2e1c86"/>
<text x="325.8" y="407.7" font-size="5.0" fill="#111">Missense variant</text>
<rect x="310.5" y="411" width="12.2" height="6.9" fill="#000000"/>
<text x="325.8" y="416.5" font-size="5.0" fill="#111">Frameshift variant</text>
<rect x="373.3" y="402.2" width="12.2" height="6.9" fill="#d33a1e"/>
<text x="388.6" y="407.7" font-size="5.0" fill="#111">Stop variant</text>
<rect x="373.3" y="411" width="12.2" height="6.9" fill="#7ab84a"/>
<text x="388.6" y="416.5" font-size="5.0" fill="#111">CNV / repeat</text>
<rect x="427.1" y="402.2" width="12.2" height="6.9" fill="#f0b31c"/>
<text x="442.4" y="407.7" font-size="5.0" fill="#111">In-frame deletion</text>
<rect x="427.1" y="411" width="12.2" height="6.9" fill="#d9d9d9"/>
<text x="442.4" y="416.5" font-size="5.0" fill="#111">Not tested</text>
</svg></body></html>
